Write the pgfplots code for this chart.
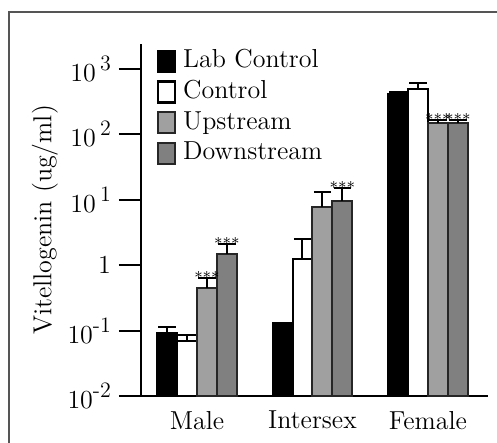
\documentclass[border=0pt]{standalone}
\usepackage{pgfplots}
\pgfplotsset{compat=1.18}
\definecolor{upgray}{HTML}{A0A0A0}
\definecolor{downgray}{HTML}{808080}
\definecolor{framegray}{HTML}{555555}
\pgfplotsset{
  sqlegend/.style={legend image code/.code={\draw[##1, line width=1.1pt] (0pt,-5pt) rectangle (8.5pt,5.5pt);}}
}
\newcommand{\supx}[1]{\raisebox{0.42em}{\fontsize{11}{11}\selectfont #1}}
\begin{document}
\begin{tikzpicture}
\useasboundingbox (0,0) rectangle (248.5pt,221.5pt);
\draw[framegray, line width=0.6pt] (4.5pt,-5pt) -- (4.5pt,215.5pt) -- (260pt,215.5pt);
\begin{axis}[
  at={(70.5pt,23.5pt)}, anchor=south west,
  scale only axis, width=173.5pt, height=176pt,
  ymode=log, log origin=infty, ymin=0.01, ymax=2400,
  xmin=-0.485, xmax=2.52,
  axis x line=bottom, axis y line=left,
  axis line style={-, line width=1pt},
  xtick={0,1,2}, xticklabels={Male,Intersex,Female},
  x tick style={draw=none},
  xticklabel style={yshift=7pt},
  ytick={0.01,0.1,1,10,100,1000},
  yticklabels={10\supx{-2},10\supx{-1},1,10\,\supx{1},10\,\supx{2},10\,\supx{3}},
  yminorticks=false,
  y tick style={line width=1pt, black},
  major tick length=11pt, tick align=outside,
  yticklabel style={xshift=-0.5pt},
  ylabel={Vitellogenin (ug/ml)},
  ylabel style={at={(axis description cs:-0.2767,0.5)}, anchor=center},
  font=\fontsize{13}{15}\selectfont,
  ybar, bar width=0.173,
  error bars/y dir=plus, error bars/y explicit,
  error bars/error bar style={line width=1pt, black},
  error bars/error mark options={rotate=90, line width=1pt, mark size=4.3pt, black},
  legend style={at={(0.045,0.99)}, anchor=north west, draw=none, fill=none,
    inner sep=0pt, row sep=1.3pt,
    nodes={inner sep=1pt, anchor=west, text height=9pt, text depth=3pt},
    font=\fontsize{13}{15}\selectfont},
  legend cell align=left,
]
\addplot[bar shift=-0.2595, fill=black, draw=black, line width=1pt, sqlegend]
  coordinates {(0,0.091) +- (0,0.021) (1,0.13) +- (0,0) (2,407) +- (0,30)};
\addplot[bar shift=-0.0865, fill=white, draw=black, line width=1pt, sqlegend]
  coordinates {(0,0.069) +- (0,0.016) (1,1.23) +- (0,1.27) (2,490) +- (0,114)};
\addplot[bar shift=0.0865, fill=upgray, draw=black!85, line width=1pt, sqlegend]
  coordinates {(0,0.45) +- (0,0.18) (1,7.7) +- (0,5.2) (2,148) +- (0,15)};
\addplot[bar shift=0.2595, fill=downgray, draw=black!85, line width=1pt, sqlegend]
  coordinates {(0,1.48) +- (0,0.62) (1,9.6) +- (0,5.4) (2,148) +- (0,15)};
\legend{\hspace{2.5pt}Lab Control, \hspace{2.5pt}Control, \hspace{2.5pt}Upstream, \hspace{2.5pt}Downstream}
\begin{scope}[every node/.style={font=\fontsize{8}{8}\selectfont, anchor=south, inner sep=0pt, yshift=-2.7pt}]
\node at (axis cs:0.0865,0.63) {***};
\node at (axis cs:0.2595,2.1) {***};
\node at (axis cs:1.2595,15) {***};
\node at (axis cs:2.0865,163) {***};
\node at (axis cs:2.2595,163) {***};
\end{scope}
\end{axis}
\end{tikzpicture}
\end{document}
